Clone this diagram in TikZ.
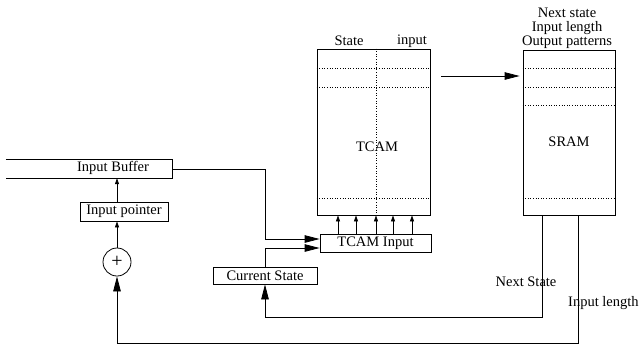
\documentclass[tikz,border=0pt]{standalone}
\usepackage{fontspec}
\setmainfont{Liberation Serif}
\usetikzlibrary{positioning,arrows.meta,calc}
\newcommand{\dgfont}{\fontsize{14.5}{14}\selectfont}
\tikzset{
  blk/.style={draw,line width=0.8pt,inner sep=0pt,font=\dgfont},
  lbl/.style={inner sep=0pt,font=\dgfont},
  wire/.style={line width=0.8pt},
  arrow-big/.style={-{Triangle[length=15pt,width=7.5pt]},line width=0.8pt},
  arrow-small/.style={-{Triangle[length=6pt,width=4pt]},line width=0.8pt},
  sep/.style={dotted,line width=0.6pt},
}

\begin{document}
\begin{tikzpicture}[x=1pt,y=-1pt]
  \useasboundingbox (0,0) rectangle (639,346);
  % memories
  \node[blk,minimum width=113,minimum height=166] (tcam) at (373.5,132) {};
  \node[blk,minimum width=92,minimum height=165]  (sram) at (569,132.5) {};
  \foreach \yy in {68,87,198}
    \draw[sep] (tcam.west |- 0,\yy) -- (tcam.east |- 0,\yy);
  \draw[sep] (tcam.north -| 376,0) -- (tcam.south -| 376,0);
  \foreach \yy in {68,87,105,198}
    \draw[sep] (sram.west |- 0,\yy) -- (sram.east |- 0,\yy);
  \node[lbl] (tstate) at (349,41)  {State};
  \node[lbl] (tinput) at (412,41)  {input};
  \node[lbl] (tname)  at (377,147) {TCAM};
  \node[lbl] (sname)  at (569,142) {SRAM};
  \node[lbl,align=center] (sfields) at (567,28) {Next state\\Input length\\Output patterns};
  % TCAM input
  \node[blk,minimum width=111,minimum height=18] (tcamin) at (375.5,243) {TCAM Input};
  \foreach \xx in {338,356,376,393,412}
    \draw[arrow-small] (tcamin.north -| \xx,0) -- (tcam.south -| \xx,0);
  % input side
  \node[lbl,minimum width=166,minimum height=18] (ibuf) at (89,169) {};
  \draw[wire] (ibuf.north west) -- (ibuf.north east) -- (ibuf.south east) -- (ibuf.south west);
  \node[lbl] (ibuftxt) at (113,168) {Input Buffer};
  \node[blk,minimum width=88,minimum height=19] (iptr) at (124,211.5) {Input pointer};
  \node[blk,circle,minimum size=28,font=\fontsize{20}{20}\selectfont] (add) at (117,262) {+};
  \node[blk,minimum width=104,minimum height=17] (cstate) at (265,275.5) {Current State};
  \draw[arrow-small] (iptr.north -| add.north) -- (ibuf.south -| add.north);
  \draw[arrow-small] (add.north) -- (add.north |- iptr.south);
  \draw[arrow-big] (ibuf.east) -- (ibuf.east -| cstate.north) |- ($(tcamin.west)+(0,-4)$);
  \draw[arrow-big] (cstate.north) |- ($(tcamin.west)+(0,5)$);
  % feedback
  \coordinate (tout) at (441,76);
  \draw[arrow-big,shorten >=3pt] (tout) -- (tout -| sram.west);
  \draw[arrow-big] (sram.south -| 542,0) -- ++(0,102) -| (cstate.south);
  \draw[arrow-big] (sram.south -| 578,0) -- ++(0,128) -| (add.south);
  \node[lbl] (nslbl) at (526,282) {Next State};
  \node[lbl,anchor=west] (illbl) at (568,303) {Input length};
\end{tikzpicture}
\end{document}
